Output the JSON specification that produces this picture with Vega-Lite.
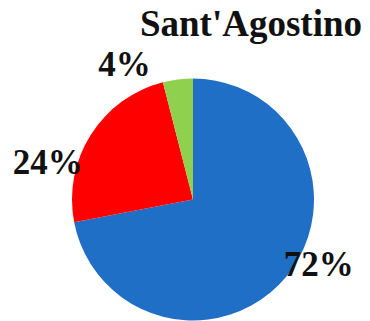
{
  "$schema": "https://vega.github.io/schema/vega-lite/v6.json",
  "autosize": "none",
  "width": 354,
  "height": 243,
  "padding": {"left": 16, "top": 78, "right": 0, "bottom": 0},
  "background": "white",
  "title": {
    "text": "Sant'Agostino",
    "anchor": "end",
    "orient": "top",
    "font": "Liberation Serif",
    "fontWeight": "bold",
    "fontSize": 37,
    "color": "#111111",
    "offset": 6,
    "dy": 30,
    "dx": -8
  },
  "data": {
    "values": [
      {"name": "A", "value": 72, "label": "72%", "ord": 1},
      {"name": "B", "value": 24, "label": "24%", "ord": 2},
      {"name": "C", "value": 4, "label": "4%", "ord": 3}
    ]
  },
  "encoding": {
    "theta": {"field": "value", "type": "quantitative", "stack": true},
    "order": {"field": "ord", "type": "quantitative"}
  },
  "layer": [
    {
      "mark": {"type": "arc", "outerRadius": 121},
      "encoding": {
        "color": {
          "field": "name",
          "type": "nominal",
          "scale": {"domain": ["A", "B", "C"], "range": ["#1F6FC6", "#FF0000", "#8FD14F"]},
          "legend": null
        }
      }
    },
    {
      "mark": {"type": "text", "radius": 140, "dx": 18, "dy": -24, "font": "Liberation Serif", "fontWeight": "bold", "fontSize": 35, "color": "#111111", "align": "center", "baseline": "middle"},
      "encoding": {"text": {"condition": {"test": "datum.name === 'A'", "field": "label"}, "value": ""}}
    },
    {
      "mark": {"type": "text", "radius": 140, "dx": -27, "dy": 39, "font": "Liberation Serif", "fontWeight": "bold", "fontSize": 35, "color": "#111111", "align": "center", "baseline": "middle"},
      "encoding": {"text": {"condition": {"test": "datum.name === 'B'", "field": "label"}, "value": ""}}
    },
    {
      "mark": {"type": "text", "radius": 140, "dx": -51, "dy": 4, "font": "Liberation Serif", "fontWeight": "bold", "fontSize": 35, "color": "#111111", "align": "center", "baseline": "middle"},
      "encoding": {"text": {"condition": {"test": "datum.name === 'C'", "field": "label"}, "value": ""}}
    }
  ]
}
